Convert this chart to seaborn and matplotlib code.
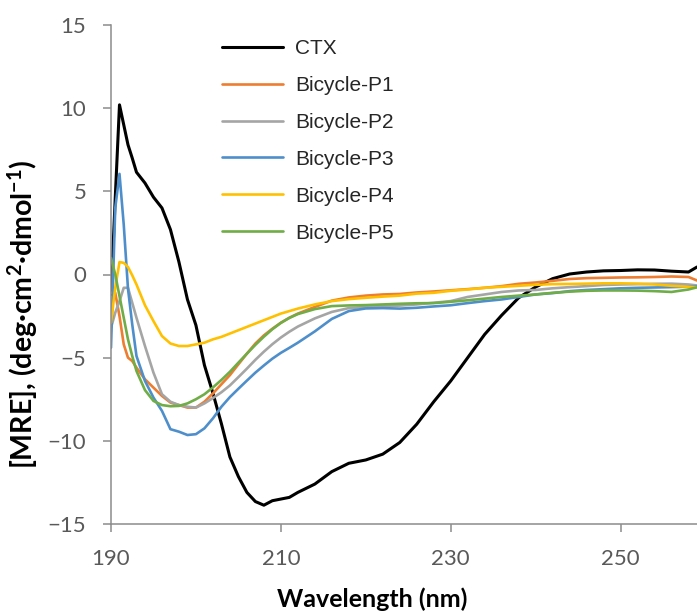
import numpy as np
import pandas as pd
import matplotlib
matplotlib.use("Agg")
import matplotlib.pyplot as plt
import seaborn as sns

# Wavelength grid (nm) shared by all spectra
wavelength = [190, 190.5, 191, 191.5, 192, 192.5, 193, 194, 195, 196,
              197, 198, 199, 200, 201, 202, 203, 204, 205, 206,
              207, 208, 209, 210, 211, 212, 214, 216, 218, 220,
              222, 224, 226, 228, 230, 232, 234, 236, 238, 240,
              242, 244, 246, 248, 250, 252, 254, 256, 258, 259]

# Mean residue ellipticity for each sample
ctx = [-1.2, 4.6, 10.2, 9.0, 7.8, 7.0, 6.15, 5.5, 4.65, 4.0,
       2.7, 0.75, -1.5, -3.05, -5.45, -7.13, -8.97, -10.97, -12.15, -13.1,
       -13.65, -13.87, -13.6, -13.5, -13.4, -13.1, -12.6, -11.85, -11.35, -11.15,
       -10.8, -10.1, -9.0, -7.65, -6.4, -5.0, -3.6, -2.45, -1.4, -0.75,
       -0.25, 0.03, 0.15, 0.22, 0.24, 0.28, 0.27, 0.2, 0.15, 0.45]

p1 = [-1.1, -1.1, -2.5, -4.2, -5.0, -5.2, -5.6, -6.3, -6.8, -7.3,
      -7.7, -7.85, -8.0, -8.0, -7.65, -7.15, -6.6, -6.05, -5.4, -4.76,
      -4.15, -3.66, -3.26, -2.9, -2.6, -2.35, -1.95, -1.57, -1.38, -1.27,
      -1.2, -1.17, -1.08, -1.02, -0.95, -0.88, -0.8, -0.7, -0.56, -0.48,
      -0.38, -0.27, -0.22, -0.2, -0.18, -0.17, -0.15, -0.12, -0.15, -0.36]

p2 = [-3.2, -2.3, -1.6, -0.8, -0.8, -1.7, -2.6, -4.3, -5.9, -7.2,
      -7.65, -7.85, -7.95, -8.0, -7.75, -7.43, -7.08, -6.67, -6.17, -5.66,
      -5.13, -4.64, -4.19, -3.79, -3.44, -3.13, -2.64, -2.25, -2.02, -1.95,
      -1.9, -1.87, -1.8, -1.7, -1.6, -1.35, -1.2, -1.05, -0.96, -0.93,
      -0.83, -0.76, -0.7, -0.63, -0.6, -0.58, -0.56, -0.55, -0.6, -0.66]

p3 = [-4.4, 4.0, 6.05, 3.0, -0.85, -3.0, -4.9, -6.4, -7.4, -8.2,
      -9.3, -9.45, -9.65, -9.6, -9.25, -8.65, -7.95, -7.37, -6.87, -6.38,
      -5.9, -5.47, -5.06, -4.71, -4.41, -4.1, -3.42, -2.67, -2.2, -2.04,
      -2.02, -2.05, -2.0, -1.92, -1.85, -1.72, -1.6, -1.5, -1.35, -1.2,
      -1.12, -1.0, -0.93, -0.88, -0.83, -0.8, -0.78, -0.76, -0.73, -0.72]

p4 = [-2.9, -0.8, 0.75, 0.7, 0.45, -0.05, -0.6, -1.85, -2.8, -3.7,
      -4.15, -4.3, -4.3, -4.2, -4.1, -3.9, -3.75, -3.55, -3.35, -3.15,
      -2.95, -2.75, -2.55, -2.35, -2.2, -2.05, -1.8, -1.6, -1.48, -1.4,
      -1.33, -1.27, -1.15, -1.1, -0.98, -0.9, -0.8, -0.74, -0.68, -0.62,
      -0.58, -0.57, -0.55, -0.53, -0.53, -0.55, -0.6, -0.68, -0.74, -0.77]

p5 = [1.0, 0.0, -1.3, -2.6, -3.9, -4.9, -5.8, -6.95, -7.6, -7.85,
      -7.92, -7.9, -7.75, -7.5, -7.2, -6.79, -6.34, -5.85, -5.3, -4.76,
      -4.23, -3.74, -3.29, -2.91, -2.61, -2.38, -2.08, -1.9, -1.86, -1.84,
      -1.8, -1.76, -1.73, -1.72, -1.64, -1.55, -1.45, -1.35, -1.27, -1.2,
      -1.1, -1.03, -0.98, -0.96, -0.96, -0.97, -1.0, -1.05, -0.9, -0.77]

sample_names = ["CTX", "Bicycle-P1", "Bicycle-P2", "Bicycle-P3", "Bicycle-P4", "Bicycle-P5"]
sample_values = [ctx, p1, p2, p3, p4, p5]
line_colors = ["#000000", "#ED7D31", "#A5A5A5", "#4E8FCB", "#FFC000", "#70AD47"]
line_widths = [2.2, 1.9, 1.9, 1.9, 1.9, 1.9]

x_ticks = [190, 210, 230, 250]
y_ticks = [-15, -10, -5, 0, 5, 10, 15]

spectra = pd.concat(
    [pd.DataFrame({"Wavelength": wavelength, "MRE": vals, "Sample": name})
     for name, vals in zip(sample_names, sample_values)],
    ignore_index=True,
)

sns.set_theme(style="white")
plt.rcParams["font.family"] = ["Lato", "DejaVu Sans"]
plt.rcParams["mathtext.default"] = "regular"

fig = plt.figure(figsize=(6.97, 6.12), dpi=100)
ax = fig.add_axes([111 / 697, 88 / 612, 586 / 697, 499 / 612])

for name, color, lw in zip(sample_names, line_colors, line_widths):
    sns.lineplot(data=spectra[spectra["Sample"] == name], x="Wavelength", y="MRE",
                 color=color, linewidth=lw, label=name, ax=ax, sort=False,
                 estimator=None)

ax.set_xlim(190, 259)
ax.set_ylim(-15, 15)
ax.set_xticks(x_ticks)
ax.set_yticks(y_ticks)

axis_grey = "#8C8C8C"
for side in ("top", "right"):
    ax.spines[side].set_visible(False)
for side in ("left", "bottom"):
    ax.spines[side].set_color(axis_grey)
    ax.spines[side].set_linewidth(1.1)

ax.tick_params(axis="both", direction="out", length=5.8, width=1.1,
               color=axis_grey, labelcolor="#595959", labelsize=16, pad=12,
               bottom=True, left=True)

ax.set_xlabel("Wavelength (nm)", fontsize=18, fontweight="bold", color="black")
ax.set_ylabel(r"[MRE], (deg·cm$^{2}$·dmol$^{-1}$)", fontsize=20.5,
              fontweight="bold", color="black")
ax.xaxis.set_label_coords(0.445, -0.128)
ax.yaxis.set_label_coords(-0.122, 0.42)

ax.legend(loc="upper left", bbox_to_anchor=(222 / 697, 1 - 39 / 612),
          bbox_transform=fig.transFigure, frameon=False,
          prop={"family": "Liberation Sans", "size": 15},
          handlelength=2.93, handletextpad=0.58, labelspacing=0.86,
          borderpad=0, borderaxespad=0)

fig.savefig("out.png", dpi=100)
